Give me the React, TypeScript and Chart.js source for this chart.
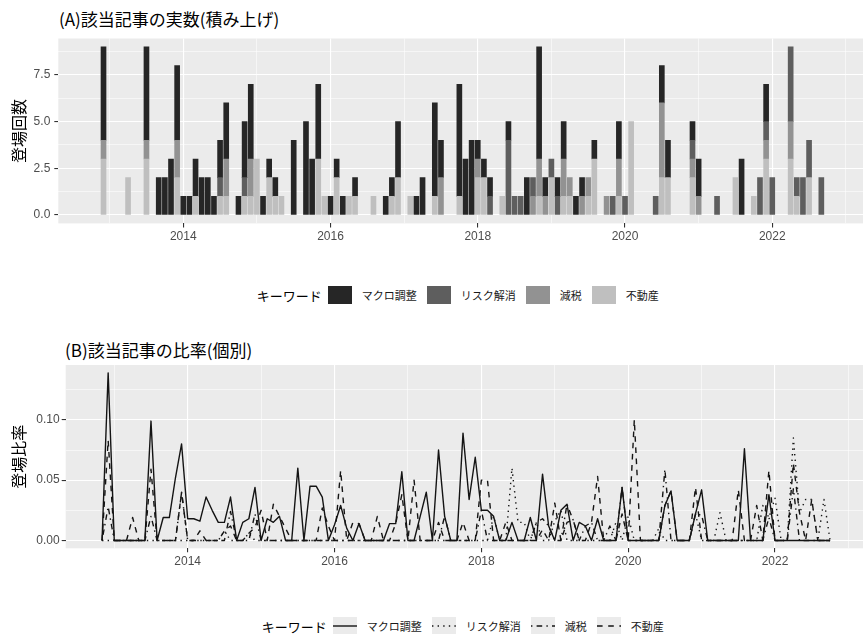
import React, { useEffect, useRef } from "react";
import { Chart, registerables } from "chart.js";

Chart.register(...registerables);

// ---------------- data ----------------
const keywords = ["マクロ調整", "リスク解消", "減税", "不動産"];
const legendTitle = "キーワード";
const titleA = "(A)該当記事の実数(積み上げ)";
const titleB = "(B)該当記事の比率(個別)";
const yTitleA = "登場回数";
const yTitleB = "登場比率";

const firstYear = 2012;
const firstMonth = 11; // series run monthly from 2012-11 to 2022-10
const majorYears = [2014, 2016, 2018, 2020, 2022];
const minorYears = [2013, 2015, 2017, 2019, 2021, 2023];
const countTicksMajor = [0, 2.5, 5, 7.5];
const countTicksMinor = [1.25, 3.75, 6.25, 8.75];
const ratioTicksMajor = [0, 0.05, 0.1];
const ratioTicksMinor = [0.025, 0.075, 0.125];

// counts (A), months 2012-11 … 2022-10
const countMacro = [
  0, 5,
  0, 0, 0, 0, 0, 0, 5, 0, 2, 2, 3, 4,
  1, 1, 2, 2, 2, 1, 2, 3, 0, 1, 3, 4,
  0, 1, 1, 1, 0, 0, 4, 0, 5, 3, 4, 0,
  1, 1, 1, 0, 1, 0, 0, 0, 0, 1, 1, 3,
  0, 0, 1, 2, 0, 5, 2, 0, 0, 6, 3, 4,
  1, 1, 1, 0, 0, 1, 0, 0, 2, 0, 6, 1,
  0, 1, 2, 0, 1, 1, 0, 1, 0, 0, 0, 2,
  0, 0, 0, 0, 0, 0, 2, 2, 0, 0, 0, 1,
  2, 0, 0, 0, 0, 0, 0, 3, 0, 0, 0, 2,
  0, 0, 0, 0, 0, 0, 0, 0, 0, 0,
];
const countRisk = [
  0, 0,
  0, 0, 0, 0, 0, 0, 0, 0, 0, 0, 0, 0,
  0, 0, 0, 0, 0, 0, 1, 0, 0, 0, 1, 0,
  0, 0, 0, 0, 0, 0, 0, 0, 0, 0, 0, 0,
  0, 0, 0, 0, 0, 0, 0, 0, 0, 0, 0, 0,
  0, 0, 0, 0, 0, 0, 0, 0, 0, 0, 0, 0,
  0, 0, 1, 0, 0, 4, 1, 1, 0, 1, 0, 0,
  1, 1, 0, 0, 0, 0, 0, 0, 0, 0, 1, 0,
  1, 0, 0, 0, 0, 1, 0, 0, 0, 0, 0, 1,
  0, 0, 0, 1, 0, 0, 0, 0, 0, 0, 2, 1,
  2, 0, 0, 4, 1, 2, 2, 0, 2, 0,
];
const countTax = [
  0, 1,
  0, 0, 0, 0, 0, 0, 1, 0, 0, 0, 0, 2,
  0, 0, 0, 0, 0, 0, 0, 2, 0, 0, 0, 2,
  0, 0, 0, 0, 0, 0, 0, 0, 0, 0, 0, 0,
  0, 0, 0, 0, 0, 0, 0, 0, 0, 0, 0, 0,
  0, 0, 0, 0, 0, 0, 2, 0, 0, 0, 0, 0,
  1, 0, 0, 0, 0, 0, 0, 0, 0, 1, 2, 1,
  0, 0, 2, 1, 0, 1, 1, 0, 0, 1, 0, 2,
  0, 0, 0, 0, 0, 0, 4, 0, 0, 0, 0, 1,
  1, 0, 0, 0, 0, 0, 0, 0, 0, 0, 0, 1,
  0, 0, 0, 2, 0, 0, 0, 0, 0, 0,
];
const countEstate = [
  0, 3,
  0, 0, 0, 2, 0, 0, 3, 0, 0, 0, 0, 2,
  0, 0, 1, 0, 0, 0, 1, 1, 0, 0, 1, 1,
  3, 0, 2, 1, 1, 0, 0, 0, 0, 0, 3, 1,
  0, 2, 0, 1, 1, 0, 0, 1, 0, 0, 1, 2,
  0, 1, 0, 0, 0, 1, 0, 0, 0, 1, 0, 0,
  2, 2, 0, 0, 1, 0, 0, 0, 0, 0, 1, 0,
  2, 0, 1, 1, 0, 0, 1, 3, 0, 0, 0, 1,
  0, 5, 0, 0, 0, 0, 2, 2, 0, 0, 0, 2,
  0, 0, 0, 0, 0, 0, 2, 0, 0, 1, 0, 3,
  0, 0, 0, 3, 1, 0, 2, 0, 0, 0,
];

// ratios (B), months 2012-11 … 2022-10
const ratioMacro = [
  0, 0.139,
  0, 0, 0, 0, 0, 0, 0.099, 0, 0.019, 0.019, 0.052, 0.08,
  0.018, 0.018, 0.016, 0.036, 0.025, 0.015, 0.015, 0.036, 0, 0.015, 0.018, 0.044,
  0, 0.018, 0.015, 0.02, 0, 0, 0.06, 0, 0.045, 0.045, 0.036, 0,
  0.013, 0.029, 0.01, 0, 0.014, 0, 0, 0, 0, 0.014, 0.014, 0.057,
  0, 0, 0.02, 0.04, 0, 0.075, 0.02, 0, 0, 0.089, 0.034, 0.069,
  0.025, 0.025, 0.02, 0, 0, 0.015, 0, 0, 0.019, 0, 0.055, 0.012,
  0, 0.025, 0.03, 0, 0.015, 0.012, 0, 0.018, 0, 0, 0, 0.044,
  0, 0, 0, 0, 0, 0, 0.029, 0.041, 0, 0, 0, 0.022,
  0.042, 0, 0, 0, 0, 0, 0, 0.076, 0, 0, 0, 0.038,
  0, 0, 0, 0, 0, 0, 0, 0, 0, 0,
];
const ratioRisk = [
  0, 0,
  0, 0, 0, 0, 0, 0, 0, 0, 0, 0, 0, 0,
  0, 0, 0, 0, 0, 0, 0.008, 0, 0, 0, 0.006, 0,
  0, 0, 0, 0, 0, 0, 0, 0, 0, 0, 0, 0,
  0, 0, 0, 0, 0, 0, 0, 0, 0, 0, 0, 0,
  0, 0, 0, 0, 0, 0, 0, 0, 0, 0, 0, 0,
  0, 0, 0.02, 0, 0, 0.06, 0.015, 0.015, 0, 0.015, 0, 0,
  0.016, 0.025, 0, 0, 0, 0, 0, 0, 0, 0, 0.015, 0,
  0.02, 0, 0, 0, 0, 0.01, 0, 0, 0, 0, 0, 0.022,
  0, 0, 0, 0.023, 0, 0, 0, 0, 0, 0, 0.029, 0.019,
  0.035, 0, 0, 0.085, 0.023, 0.034, 0.034, 0, 0.034, 0,
];
const ratioTax = [
  0, 0.028,
  0, 0, 0, 0, 0, 0, 0.02, 0, 0, 0, 0, 0.04,
  0, 0, 0, 0, 0, 0, 0, 0.024, 0, 0, 0, 0.022,
  0, 0, 0, 0, 0, 0, 0, 0, 0, 0, 0, 0,
  0, 0, 0, 0, 0, 0, 0, 0, 0, 0, 0, 0,
  0, 0, 0, 0, 0, 0, 0.02, 0, 0, 0, 0, 0,
  0.025, 0, 0, 0, 0, 0, 0, 0, 0, 0.015, 0.018, 0.012,
  0, 0, 0.03, 0.017, 0, 0.012, 0.015, 0, 0, 0.012, 0, 0.044,
  0, 0, 0, 0, 0, 0, 0.059, 0, 0, 0, 0, 0.022,
  0.021, 0, 0, 0, 0, 0, 0, 0, 0, 0, 0, 0.019,
  0, 0, 0, 0.043, 0, 0, 0, 0, 0, 0,
];
const ratioEstate = [
  0, 0.083,
  0, 0, 0, 0.019, 0, 0, 0.059, 0, 0, 0, 0, 0.04,
  0, 0, 0.008, 0, 0, 0, 0.008, 0.012, 0, 0, 0.006, 0.011,
  0.025, 0, 0.03, 0.02, 0.01, 0, 0, 0, 0, 0, 0.027, 0.012,
  0, 0.058, 0, 0.015, 0.014, 0, 0, 0.02, 0, 0, 0.014, 0.038,
  0, 0.05, 0, 0, 0, 0.015, 0, 0, 0, 0.015, 0, 0,
  0.05, 0.05, 0, 0, 0.015, 0, 0, 0, 0, 0, 0.009, 0,
  0.031, 0, 0.015, 0.017, 0, 0, 0.015, 0.053, 0, 0, 0, 0.022,
  0, 0.1, 0, 0, 0, 0, 0.029, 0.041, 0, 0, 0, 0.044,
  0, 0, 0, 0, 0, 0, 0.042, 0, 0, 0.029, 0, 0.058,
  0, 0, 0, 0.064, 0.023, 0, 0.034, 0, 0, 0,
];

// ---------------- styles ----------------
const CJK = '"Noto Sans CJK JP", "Noto Sans", sans-serif';
const LATIN = '"Liberation Sans", Arial, sans-serif';
const PANEL_BG = "#EBEBEB";
const barColors = ["#262626", "#5E5E5E", "#929292", "#BFBFBF"];
const lineDashes: number[][] = [[], [1.4, 4.2], [1.4, 4.2, 5.6, 4.2], [5.6, 5.6]];
const W = 863;

// month index relative to 2014-01
const monthIndex = (year: number, month: number) => (year - 2014) * 12 + (month - 1);
const x0 = monthIndex(firstYear, firstMonth);
const toPoints = (values: number[]) => values.map((v, i) => ({ x: x0 + i, y: v }));
const toBarPoints = (values: number[]) =>
  values.map((v, i) => ({ x: x0 + i, y: v })).filter((p) => p.y > 0);
const near = (a: number, b: number) => Math.abs(a - b) < 1e-6;

const panelBg = {
  id: "panelBg",
  beforeDraw(chart: any) {
    const { ctx, chartArea: a } = chart;
    ctx.save();
    ctx.fillStyle = PANEL_BG;
    ctx.fillRect(a.left, a.top, a.right - a.left, a.bottom - a.top);
    ctx.restore();
  },
};

function makeX(min: number, max: number, height: number) {
  const major = majorYears.map((y) => monthIndex(y, 1));
  const minor = minorYears.map((y) => monthIndex(y, 1));
  const all = [...major, ...minor].filter((v) => v >= min && v <= max).sort((a, b) => a - b);
  const isMajor = (v: number) => major.some((m) => near(m, v));
  return {
    type: "linear",
    min,
    max,
    offset: false,
    afterBuildTicks: (s: any) => {
      s.ticks = all.map((v) => ({ value: v }));
    },
    afterFit: (s: any) => {
      s.height = height;
    },
    border: { display: false },
    grid: {
      offset: false,
      color: "#FFFFFF",
      lineWidth: (c: any) => (c.tick && isMajor(c.tick.value) ? 1.1 : 0.55),
      drawTicks: true,
      tickLength: 4,
      tickWidth: 1.1,
      tickColor: (c: any) => (c.tick && isMajor(c.tick.value) ? "#333333" : "rgba(0,0,0,0)"),
    },
    ticks: {
      autoSkip: false,
      maxRotation: 0,
      minRotation: 0,
      padding: 2,
      color: "#4D4D4D",
      font: { family: LATIN, size: 12 },
      callback: (v: number) => (isMajor(v) ? String(2014 + v / 12) : ""),
    },
  };
}

function makeY(
  min: number,
  max: number,
  width: number,
  majors: number[],
  minors: number[],
  digits: number,
  title: string,
  pad: number
) {
  const all = [...majors, ...minors].filter((v) => v >= min && v <= max).sort((a, b) => a - b);
  const isMajor = (v: number) => majors.some((m) => near(m, v));
  return {
    type: "linear",
    min,
    max,
    afterBuildTicks: (s: any) => {
      s.ticks = all.map((v) => ({ value: v }));
    },
    afterFit: (s: any) => {
      s.width = width;
    },
    border: { display: false },
    grid: {
      color: "#FFFFFF",
      lineWidth: (c: any) => (c.tick && isMajor(c.tick.value) ? 1.1 : 0.55),
      drawTicks: true,
      tickLength: 4,
      tickWidth: 1.1,
      tickColor: (c: any) => (c.tick && isMajor(c.tick.value) ? "#333333" : "rgba(0,0,0,0)"),
    },
    ticks: {
      autoSkip: false,
      padding: pad,
      color: "#4D4D4D",
      font: { family: LATIN, size: 12 },
      callback: (v: number) => (isMajor(v) ? v.toFixed(digits) : ""),
    },
    title: {
      display: true,
      text: title,
      color: "#000000",
      font: { family: CJK, size: 16 },
      padding: { top: 9, bottom: 0 },
    },
  };
}

function BarChartA() {
  const ref = useRef<HTMLCanvasElement>(null);
  useEffect(() => {
    if (!ref.current) return;
    const series = [countEstate, countTax, countRisk, countMacro];
    const names = [keywords[3], keywords[2], keywords[1], keywords[0]];
    const cols = [barColors[3], barColors[2], barColors[1], barColors[0]];
    const chart = new Chart(ref.current, {
      type: "bar",
      data: {
        datasets: series.map((s, i) => ({
          label: names[i],
          data: toBarPoints(s),
          backgroundColor: cols[i],
          borderWidth: 0,
          barThickness: 5,
        })),
      } as any,
      options: {
        animation: false,
        responsive: false,
        layout: { padding: { top: 38.5, left: 0, right: 0, bottom: 0 } },
        plugins: { legend: { display: false }, tooltip: { enabled: false }, title: { display: false } },
        scales: {
          x: { ...makeX(-20.37, 110.79, 26.6), stacked: true },
          y: {
            ...makeY(-0.45, 9.45, 58.3, countTicksMajor, countTicksMinor, 1, yTitleA, 4),
            stacked: true,
          },
        } as any,
      },
      plugins: [panelBg],
    });
    return () => chart.destroy();
  }, []);
  return <canvas ref={ref} width={W} height={250} style={{ position: "absolute", left: 0, top: 0, width: W, height: 250 }} />;
}

function LineChartB() {
  const ref = useRef<HTMLCanvasElement>(null);
  useEffect(() => {
    if (!ref.current) return;
    const series = [ratioEstate, ratioTax, ratioRisk, ratioMacro];
    const names = [keywords[3], keywords[2], keywords[1], keywords[0]];
    const dashes = [lineDashes[3], lineDashes[2], lineDashes[1], lineDashes[0]];
    const chart = new Chart(ref.current, {
      type: "line",
      data: {
        datasets: series.map((s, i) => ({
          label: names[i],
          data: toPoints(s),
          borderColor: "#141414",
          backgroundColor: "#141414",
          borderWidth: 1.4,
          borderDash: dashes[i],
          borderJoinStyle: "round",
          borderCapStyle: "butt",
          pointRadius: 0,
          tension: 0,
          fill: false,
        })),
      } as any,
      options: {
        animation: false,
        responsive: false,
        layout: { padding: { top: 35, left: 0, right: 0, bottom: 0 } },
        plugins: { legend: { display: false }, tooltip: { enabled: false }, title: { display: false } },
        scales: {
          x: makeX(-19.94, 110.38, 24.7),
          y: makeY(-0.0065, 0.1455, 65.7, ratioTicksMajor, ratioTicksMinor, 2, yTitleB, 2),
        } as any,
      },
      plugins: [panelBg],
    });
    return () => chart.destroy();
  }, []);
  return <canvas ref={ref} width={W} height={243} style={{ position: "absolute", left: 0, top: 330, width: W, height: 243 }} />;
}

const legendText: React.CSSProperties = { fontFamily: CJK, fontSize: 11, color: "#1A1A1A", marginRight: 10, whiteSpace: "nowrap" };
const legendTitleStyle: React.CSSProperties = { fontFamily: CJK, fontSize: 13, color: "#000", marginRight: 6, whiteSpace: "nowrap" };

function LegendA({ left, centerY }: { left: number; centerY: number }) {
  return (
    <div style={{ position: "absolute", left, top: centerY - 9, height: 18, display: "flex", alignItems: "center" }}>
      <span style={legendTitleStyle}>{legendTitle}</span>
      {keywords.map((k, i) => (
        <React.Fragment key={k}>
          <span style={{ display: "inline-block", width: 24, height: 18, background: barColors[i], marginRight: 10 }} />
          <span style={legendText}>{k}</span>
        </React.Fragment>
      ))}
    </div>
  );
}

function LegendB({ left, centerY }: { left: number; centerY: number }) {
  return (
    <div style={{ position: "absolute", left, top: centerY - 9, height: 18, display: "flex", alignItems: "center" }}>
      <span style={legendTitleStyle}>{legendTitle}</span>
      {keywords.map((k, i) => (
        <React.Fragment key={k}>
          <svg width={24} height={18} style={{ display: "block", marginRight: 10 }}>
            <rect x={0} y={0} width={24} height={18} fill={PANEL_BG} />
            <line
              x1={0}
              y1={9}
              x2={24}
              y2={9}
              stroke="#141414"
              strokeWidth={1.4}
              strokeDasharray={lineDashes[i].length ? lineDashes[i].join(" ") : undefined}
            />
          </svg>
          <span style={legendText}>{k}</span>
        </React.Fragment>
      ))}
    </div>
  );
}

const titleStyle: React.CSSProperties = {
  position: "absolute",
  fontFamily: CJK,
  fontSize: 17,
  lineHeight: 1,
  color: "#000",
  whiteSpace: "nowrap",
};

export default function App() {
  return (
    <div style={{ position: "fixed", left: 0, top: 0, width: W, height: 634, overflow: "hidden", background: "#FFFFFF" }}>
      <div style={{ ...titleStyle, left: 59, top: 10 }}>{titleA}</div>
      <BarChartA />
      <LegendA left={256.7} centerY={295} />
      <div style={{ ...titleStyle, left: 65, top: 340.5 }}>{titleB}</div>
      <LineChartB />
      <LegendB left={261.7} centerY={626} />
    </div>
  );
}
